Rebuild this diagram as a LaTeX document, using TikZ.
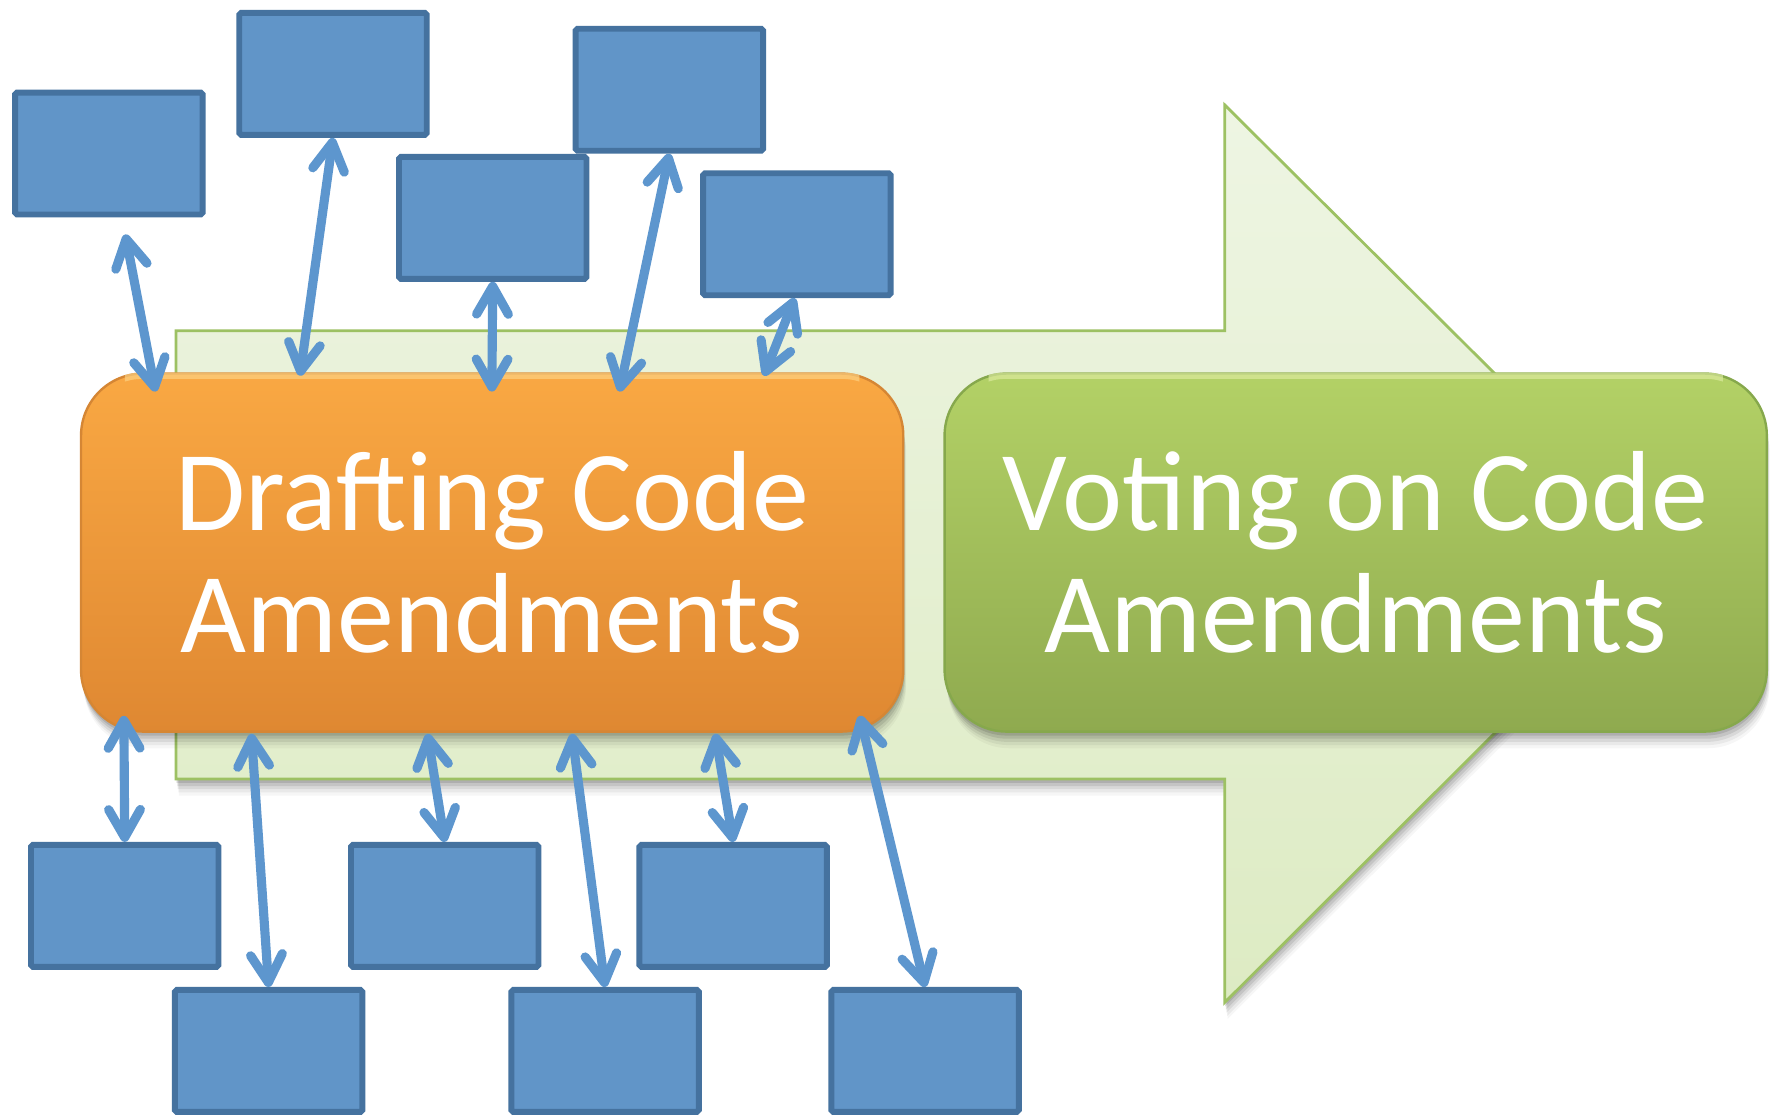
\documentclass[tikz,border=0pt]{standalone}
\usepackage{fontspec}
\setmainfont{Carlito}
\usetikzlibrary{arrows.meta,calc}

\definecolor{blkfill}{HTML}{6195C8}
\definecolor{blkdraw}{HTML}{45729F}
\definecolor{linkcol}{HTML}{5D96CE}
\definecolor{orTop}{HTML}{F9A843}
\definecolor{orBot}{HTML}{DF8832}
\definecolor{orEdge}{HTML}{D58634}
\definecolor{orGloss}{HTML}{FDD88C}
\definecolor{grTop}{HTML}{B3D166}
\definecolor{grBot}{HTML}{8FAA4F}
\definecolor{grEdge}{HTML}{86A84C}
\definecolor{grGloss}{HTML}{E2EEA6}
\definecolor{arTop}{HTML}{EEF5E3}
\definecolor{arBot}{HTML}{DDEBC3}
\definecolor{arEdge}{HTML}{9DC163}

\begin{document}
\begin{tikzpicture}[x=0.01cm, y=-0.01cm,
  soft shadow/.style={
    preaction={fill=black, opacity=0.035, transform canvas={xshift=0.7pt, yshift=-4.2pt}},
    preaction={fill=black, opacity=0.05, transform canvas={xshift=0.6pt, yshift=-3.4pt}},
    preaction={fill=black, opacity=0.07, transform canvas={xshift=0.4pt, yshift=-2.6pt}},
    preaction={fill=black, opacity=0.09, transform canvas={xshift=0.3pt, yshift=-1.8pt}},
    preaction={fill=black, opacity=0.11, transform canvas={xshift=0.1pt, yshift=-1.0pt}}},
  blk/.style={draw=blkdraw, fill=blkfill, line width=1.5pt,
    minimum width=1.66cm, minimum height=1.08cm, inner sep=0pt,
    rounded corners=0.5pt},
  link/.style={draw=linkcol, line width=2.3pt, line cap=round,
    {Straight Barb[round, length=7pt, width=8pt]}-{Straight Barb[round, length=7pt, width=8pt]}},
  stage/.style={rounded corners=0.55cm, minimum width=7.28cm,
    minimum height=3.17cm, text=white, align=center,
    font=\fontsize{28.7}{30.7}\selectfont, line width=0.6pt, soft shadow},
  gloss/.style={line width=1.6pt, opacity=0.6, rounded corners=0.52cm},
]
\useasboundingbox (0,0) rectangle (1568,987);
\clip (0,0) rectangle (1568,987);
\fill[white] (0,0) rectangle (1568,987);

% process arrow in the background
\path[soft shadow, top color=arTop, bottom color=arBot, draw=arEdge, line width=0.7pt]
  (156,293) -- (1085,293) -- (1085,93) -- (1484,490)
  -- (1085,888) -- (1085,690) -- (156,690) -- cycle;

% the two stages
\node[stage, top color=orTop, bottom color=orBot, draw=orEdge] (draft)
  at (436,489.5) {Drafting Code\\Amendments};
\node[stage, top color=grTop, bottom color=grBot, draw=grEdge] (vote)
  at (1201,489.5) {Voting on Code\\Amendments};

% glossy rim along the top edge of each stage
\begin{scope}
  \clip ($(draft.north west)+(40,0)$) rectangle ($(draft.north east)+(-40,8)$);
  \draw[gloss, orGloss] ($(draft.north west)+(3,3)$) rectangle ($(draft.south east)+(-3,-3)$);
\end{scope}
\begin{scope}
  \clip ($(vote.north west)+(40,0)$) rectangle ($(vote.north east)+(-40,8)$);
  \draw[gloss, grGloss] ($(vote.north west)+(3,3)$) rectangle ($(vote.south east)+(-3,-3)$);
\end{scope}

% contributors above
\node[blk] (t1) at (96.5,136) {};
\node[blk] (t2) at (295,65.5) {};
\node[blk] (t4) at (593,79.5) {};
\node[blk] (t3) at (436.5,193) {};
\node[blk] (t5) at (706,207.5) {};

% contributors below
\node[blk] (l1) at (110.5,802.5) {};
\node[blk] (l2) at (238,931) {};
\node[blk] (l3) at (394,802.5) {};
\node[blk] (l4) at (536,931) {};
\node[blk] (l5) at (649.5,802.5) {};
\node[blk] (l6) at (819.5,931) {};

% two-way links
\draw[link] ($(t1.south)+(14.5,15)$) -- ($(draft.north west)+(67,17)$);
\draw[link] (t2.south) -- ($(draft.north west)+(195,3)$);
\draw[link] (t3.south) -- ($(draft.north west)+(365,17)$);
\draw[link] (t4.south) -- ($(draft.north west)+(478,17)$);
\draw[link] ($(t5.south)+(-2,0)$) -- ($(draft.north west)+(606,3)$);

\draw[link] ($(draft.south west)+(39,-15)$) -- (l1.north);
\draw[link] ($(draft.south west)+(152,1)$) -- (l2.north);
\draw[link] ($(draft.south west)+(308,1)$) -- (l3.north);
\draw[link] ($(draft.south west)+(436,1)$) -- (l4.north);
\draw[link] ($(draft.south west)+(563,1)$) -- (l5.north);
\draw[link] ($(draft.south west)+(691,-15)$) -- (l6.north);
\end{tikzpicture}
\end{document}
